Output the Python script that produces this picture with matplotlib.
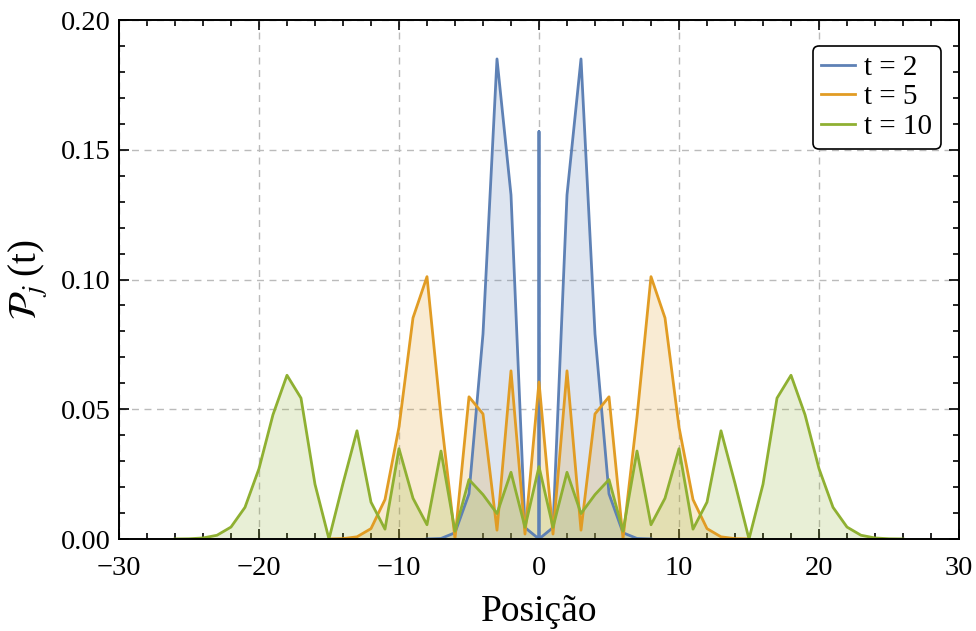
import matplotlib.pyplot as plt
from matplotlib.ticker import MultipleLocator

# posições e probabilidades
pos_t2 = [-8, -7, -6, -5, -4, -3, -2, -1, 0, 0, 0, 1, 2, 3, 4, 5, 6, 7, 8]
prob_t2 = [0.00002, 0.0002, 0.0024, 0.0174, 0.079, 0.185, 0.1326, 0.0044, 0.0,
           0.157, 0.0,
           0.0044, 0.1326, 0.185, 0.079, 0.0174, 0.0024, 0.0002, 0.00002]

pos_t5 = list(range(-15, 16))
prob_t5 = [0.00002, 0.00014, 0.00084, 0.0040, 0.0152, 0.0431, 0.0852, 0.1011,
           0.0470, 0.0002, 0.0548, 0.0482, 0.0034, 0.0648, 0.0019,
           0.0605,
           0.0019, 0.0648, 0.0034, 0.0482, 0.0548, 0.0002, 0.0470, 0.1011,
           0.0852, 0.0431, 0.0152, 0.0040, 0.00084, 0.00014, 0.00002]

pos_t10 = list(range(-26, 27))
prob_t10 = [0.00002, 0.00009, 0.0004, 0.00144, 0.0046, 0.0122, 0.0271, 0.0479,
            0.0631, 0.0543, 0.0211, 0.0000, 0.0214, 0.0417, 0.0142, 0.0038,
            0.0348, 0.0157, 0.0055, 0.0339, 0.0030, 0.0229, 0.0171, 0.0098,
            0.0257, 0.0045,
            0.0279,
            0.0045, 0.0257, 0.0098, 0.0171, 0.0229, 0.0030, 0.0339, 0.0055,
            0.0157, 0.0348, 0.0038, 0.0142, 0.0417, 0.0214, 0.0000, 0.0211,
            0.0543, 0.0631, 0.0479, 0.0271, 0.0122, 0.0046, 0.00144, 0.0004,
            0.00009, 0.00002]

series = [("t = 2", pos_t2, prob_t2, "#5E81B5"),
          ("t = 5", pos_t5, prob_t5, "#E19C24"),
          ("t = 10", pos_t10, prob_t10, "#8FB032")]

plt.rcParams['font.family'] = ['Liberation Serif', 'DejaVu Serif']
plt.rcParams['mathtext.fontset'] = 'stix'

fig = plt.figure(figsize=(9.76, 6.31), dpi=100)
ax = fig.add_axes([0.1219, 0.1458, 0.8607, 0.8225])

for rotulo, x, y, cor in series:
    ax.fill_between(x, y, 0, color=cor, alpha=0.2, linewidth=0)
    ax.plot(x, y, color=cor, lw=2, label=rotulo)

ax.set_xlim(-30, 30)
ax.set_ylim(0, 0.20)
ax.xaxis.set_major_locator(MultipleLocator(10))
ax.xaxis.set_minor_locator(MultipleLocator(2))
ax.yaxis.set_major_locator(MultipleLocator(0.05))
ax.yaxis.set_minor_locator(MultipleLocator(0.01))
ax.set_yticklabels(["%.2f" % v for v in ax.get_yticks()])
ax.set_xticks([-30, -20, -10, 0, 10, 20, 30])
ax.set_xticklabels(["\u221230", "\u221220", "\u221210", "0", "10", "20", "30"])

ax.tick_params(which='both', direction='in', top=True, right=True,
               labelsize=20.5, width=1.2)
ax.tick_params(axis='x', pad=12)
ax.tick_params(axis='y', pad=6)
ax.tick_params(which='major', length=7)
ax.tick_params(which='minor', length=4)
for s in ax.spines.values():
    s.set_linewidth(1.4)

ax.grid(True, which='major', color='#BBBBBB', ls=(0, (5, 4)), lw=1)
ax.set_axisbelow(True)

ax.set_xlabel("Posição", fontsize=27, labelpad=10)
ax.set_ylabel(r"$\mathcal{P}_{j}\;$(t)", fontsize=28, labelpad=8)

leg = ax.legend(loc='upper right', fontsize=21, frameon=True, fancybox=True,
                edgecolor='black', framealpha=1, handlelength=1.15,
                handletextpad=0.3, borderpad=0.3, labelspacing=0.1,
                borderaxespad=0, bbox_to_anchor=(0.978, 0.950))
leg.get_frame().set_linewidth(1.2)

fig.savefig("out.png", dpi=100)
